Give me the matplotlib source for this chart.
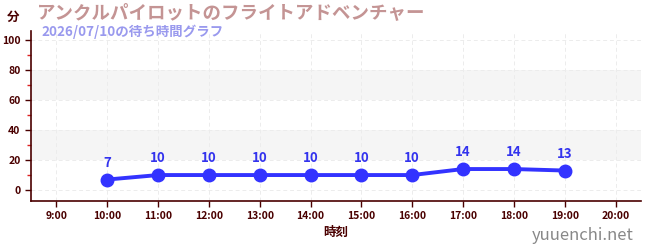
import matplotlib
matplotlib.use("Agg")
import matplotlib.pyplot as plt
from matplotlib.ticker import MultipleLocator

plt.rcParams['font.family'] = ['Noto Sans CJK JP', 'DejaVu Sans']

hours = [10, 11, 12, 13, 14, 15, 16, 17, 18, 19]
waits = [7, 10, 10, 10, 10, 10, 10, 14, 14, 13]
xticks = list(range(9, 21))
xticklabels = [f"{h}:00" for h in xticks]
yticks = [0, 20, 40, 60, 80, 100]

title = "アンクルパイロットのフライトアドベンチャー"
subtitle = "2026/07/10の待ち時間グラフ"

axis_col = "#4a0000"
fig = plt.figure(figsize=(6.5, 2.5), dpi=100)
ax = fig.add_axes([31/650, 1 - 201/250, 610/650, 170/250])
ax.set_xlim(8.5, 20.5)
ax.set_ylim(-7.3, 106)

for lo, hi in [(20, 40), (60, 80)]:
    ax.axhspan(lo, hi, color="#f5f5f5", zorder=0, lw=0)

ax.set_xticks(xticks)
ax.set_xticklabels(xticklabels)
ax.set_yticks(yticks)
ax.yaxis.set_minor_locator(MultipleLocator(10))
ax.grid(True, which="major", color="#ececec", linestyle=(0, (4, 3)), lw=0.7)
ax.set_axisbelow(True)

for s in ["top", "right"]:
    ax.spines[s].set_visible(False)
for s in ["left", "bottom"]:
    ax.spines[s].set_color(axis_col)
    ax.spines[s].set_linewidth(1.2)
ax.tick_params(axis="both", which="major", colors=axis_col, labelsize=7.5, length=4, width=1)
ax.tick_params(axis="y", which="minor", colors="#dd2222", length=3, width=1)
for lbl in ax.get_xticklabels() + ax.get_yticklabels():
    lbl.set_fontweight("bold")
    lbl.set_color(axis_col)

ax.plot(hours, waits, color="#3333ff", lw=2.8, marker="o", markersize=9, zorder=3)
for h, w in zip(hours, waits):
    ax.annotate(str(w), (h, w), xytext=(0, 7), textcoords="offset points",
                ha="center", va="bottom", color="#3333ee", fontsize=9.5, fontweight="bold")

ax.set_xlabel("時刻", color=axis_col, fontsize=9, fontweight="bold", labelpad=3)

fig.text(13/650, 1 - 17/250, "分", color=axis_col, fontsize=9, fontweight="bold", ha="center", va="center")
fig.text(37/650, 1 - 13/250, title, color="#c49494", fontsize=13.3, fontweight="bold", ha="left", va="center")
fig.text(41/650, 1 - 32/250, subtitle, color="#9999ee", fontsize=9.7, fontweight="bold", ha="left", va="center")
fig.text(634/650, 1 - 235/250, "yuuenchi.net", color="#888888", fontsize=12, ha="right", va="center")

fig.savefig("out.png", dpi=100)
